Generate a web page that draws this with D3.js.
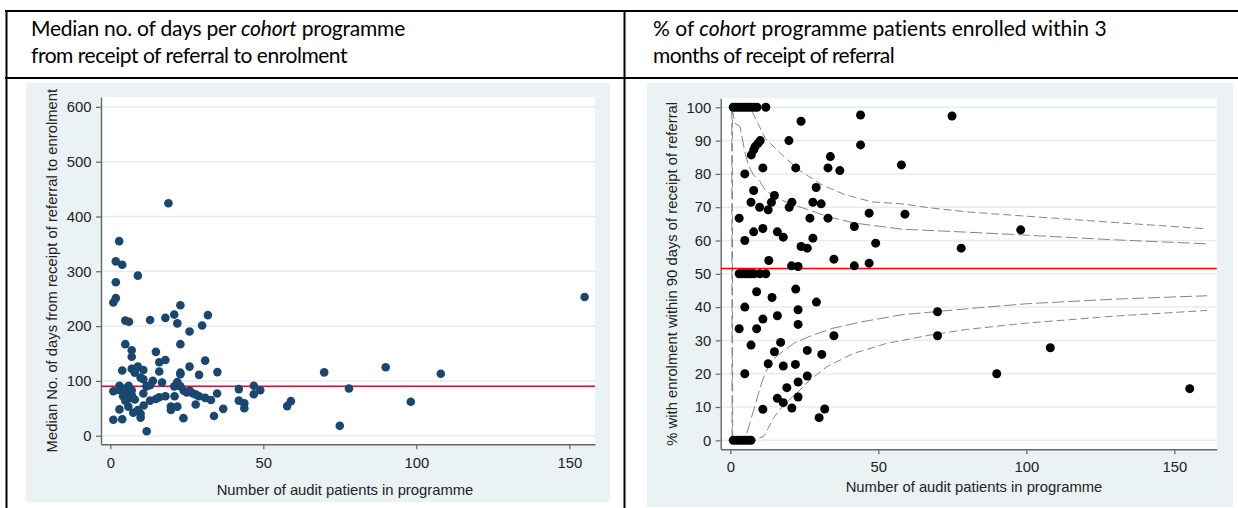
<!DOCTYPE html>
<html><head><meta charset="utf-8">
<script src="https://cdn.jsdelivr.net/npm/d3@7"></script>
<style>body{margin:0;background:#fff}svg{display:block}</style>
</head><body>
<svg id="c" width="1238" height="508"></svg>
<script>
// ---------- DATA ----------
const daysX = [19,2.9,1.8,3.9,9,1.8,1,1.8,4.9,6.1,13,18,20.9,22.9,21.9,25.9,30,31.9,4.9,7,7,14.9,22.9,16,18,25.9,31,
  3.9,7,9,10.8,8,9.9,10.8,16,22.9,22.9,29,35,13.9,16.9,21.9,1,3,3,4.9,6,4.8,7,4.2,7,6,8,4.9,5.9,3,1,3.9,7.5,9,9.9,9.9,
  10.9,11.9,10.8,11.8,13,13,14.9,16,18,21,19.8,19.8,21.9,20.9,21.9,22.9,23.9,24,25,26,27,28,29,27.9,31,32.9,34.9,33.9,
  36.9,42,42,43.8,43.8,46.9,46.9,49,57.8,59,69.9,75,78,90,98.2,108,155];
const daysY = [424,355,318,312,292,280,243,251,210,208,211,215,221,238,205,190,201,220,167,156,144,153,167,134,138,126,137,
  119,122,126,120,115,106,103,117,115,112,111,116,100,97,98,81,91,83,86,91,78,83,72,74,68,66,64,53,48,29,30,42,47,40,33,
  55,8,77,90,92,64,67,70,72,72,53,47,53,90,95,90,32,82,79,82,77,75,72,57,69,65,77,36,
  49,85,64,59,50,91,75.5,83,54,63,115.6,18,86,125,62,113,253];
const daysMedian = 90;
const daysTicks = [0,100,200,300,400,500,600];

const pctX = [1,2,3,4,5,6,7,8,9,12,
  23.9,44,44,19.8,7.1,7.9,8.4,9.4,10.1,33.8,57.8,4.9,11,22.1,33,37,29,7.9,14.9,7,13.9,9.9,12.8,20.8,19.9,27.9,30.7,
  3,26.9,33,46.9,59,41.9,4.9,7.9,11,15.9,17.9,27.9,23.9,26,49.1,13,35,20.7,22.9,41.9,46.9,74.9,98.1,78,
  3,4,5,6,7,8,10,12,
  8.9,14.1,22.1,29.1,4.9,11,15.9,22.9,22.9,3,8.9,35,7,17,14.9,26,30.9,12.8,17.9,22,4.9,26,22.9,19.1,15.9,17.9,22.9,
  11,20.8,31.9,30,
  1,2,3,4,5,6,7,
  70,70,108.1,90,155.2];
const pctY = [100,100,100,100,100,100,100,100,100,100,
  95.8,97.7,88.7,90,85.7,87.2,88.2,89.2,90,85.2,82.7,80,81.8,81.8,81.8,81,75.9,75,73.5,71.5,71.5,70,69.2,71.5,70,71.5,71,
  66.7,66.7,66.7,68.2,67.9,64.2,60,62.6,63.6,62.6,61,60.7,58.2,57.7,59.2,54,54.4,52.4,52.2,52.4,53.2,97.4,63.2,57.7,
  50,50,50,50,50,50,50,50,
  44.6,42.9,45.4,41.5,40,36.4,37.4,39.2,34.8,33.5,33.5,31.4,28.6,29.4,26.6,27,25.8,23,22.3,22.8,20,19.3,17.5,15.8,12.6,11.3,13,
  9.3,9.7,9.4,6.8,
  0,0,0,0,0,0,0,
  38.6,31.4,27.8,20,15.5];
const pctMean = 51.6;
const pctTicks = [0,10,20,30,40,50,60,70,80,90,100];
const xTicks = [0,50,100,150];

// funnel limits
const upper998X = [0.5,7,7.8,11.8,16.9,23.1,31,38.9,47.9,58,67.5,80,100,130,161];
const upper998Y = [100,100,97.9,90.7,86.2,81.2,76.7,73.7,71.6,71.0,69.8,68.6,67.3,65.4,63.5];
const upper95X = [0.5,1.6,3.3,5,6.1,7.8,10,12,15.7,21.4,26.5,33.2,42.2,58,80,100,130,161];
const upper95Y = [100,95.2,94.2,86.2,82.7,79.7,77.7,74.9,72.7,70.7,69.2,67.1,65.2,63.4,62.5,61.6,60.2,59.0];
const lower95X = [0.5,0.6,5.1,8.4,10.7,13.5,16.9,21.4,26.5,34.4,44.5,58,80,100,130,161];
const lower95Y = [100,0,0.6,10.6,17.6,23.6,26.1,29.1,31.1,33.6,35.6,37.7,39.5,41.0,42.4,43.4];
const lower998X = [0.7,0.8,7.2,11.2,12.8,14.5,17.9,22.4,26.9,32.6,41.6,52.8,67.5,80,100,130,161];
const lower998Y = [100,0,0,1.1,3.6,6.6,10.6,14.1,18.1,22.1,26.1,29.1,31.6,33.3,35.2,37.3,39.0];

const titleLeft1 = ["Median no. of days per ","cohort"," programme"];
const titleLeft2 = "from receipt of referral to enrolment";
const titleRight1 = ["% of ","cohort"," programme patients enrolled within 3"];
const titleRight2 = "months of receipt of referral";
const xTitle = "Number of audit patients in programme";
const yTitleLeft = "Median No. of days from receipt of referral to enrolment";
const yTitleRight = "% with enrolment within 90 days of receipt of referral";

// ---------- DRAW ----------
const svg = d3.select('#c');
const AX_FONT = "'Liberation Sans', Arial, sans-serif";
const BG = "#eaf2f3", GRID = "#e4edf0", AXC = "#666";

function fitText(sel, target){
  const n = sel.text().length;
  const w = sel.node().getComputedTextLength();
  sel.attr('letter-spacing', ((target - w) / n).toFixed(3));
}
function title(x, y, parts, target){
  const t = svg.append('text').attr('x', x).attr('y', y)
    .attr('font-family', "Lato, 'Open Sans', sans-serif").attr('font-size', 21).attr('fill', '#000');
  if (Array.isArray(parts)) {
    parts.forEach((p,i)=> t.append('tspan').text(p).attr('font-style', i===1 ? 'italic' : 'normal'));
  } else t.text(parts);
  fitText(t, target);
}

function panel(o){
  svg.append('rect').attr('x', o.bg[0]).attr('y', o.bg[1]).attr('width', o.bg[2]).attr('height', o.bg[3]).attr('fill', BG);
  const x = d3.scaleLinear().domain(o.xd).range([o.l, o.r]);
  const y = d3.scaleLinear().domain(o.yd).range([o.b, o.t]);
  svg.append('rect').attr('x', o.l).attr('y', o.t).attr('width', o.r - o.l).attr('height', o.b - o.t).attr('fill', '#fff');
  svg.append('g').selectAll('line').data(o.yTicks).join('line')
    .attr('x1', o.l).attr('x2', o.r).attr('y1', d=>y(d)).attr('y2', d=>y(d))
    .attr('stroke', GRID).attr('stroke-width', 1.5);
  const ya = svg.append('g').attr('transform', `translate(${o.l},0)`)
    .call(d3.axisLeft(y).tickValues(o.yTicks).tickSize(5).tickSizeOuter(0).tickPadding(4.5));
  const xa = svg.append('g').attr('transform', `translate(0,${o.b})`)
    .call(d3.axisBottom(x).tickValues(xTicks).tickSize(5).tickSizeOuter(0).tickPadding(o.xpad));
  [ya, xa].forEach(a=>{
    a.select('.domain').attr('stroke', AXC).attr('stroke-width', 1.4);
    a.selectAll('.tick line').attr('stroke', AXC).attr('stroke-width', 1.2);
    a.selectAll('text').attr('font-family', AX_FONT).attr('font-size', 14.8).attr('fill', '#222');
  });
  const g = svg.append('g');
  if (o.funnels) {
    o.funnels.forEach(f=>{
      const pts = f.xs.map((v,i)=>[v, f.ys[i]]);
      g.append('path').attr('d', d3.line().x(d=>x(d[0])).y(d=>y(d[1]))(pts))
        .attr('fill','none').attr('stroke','#858585').attr('stroke-width',1).attr('stroke-dasharray', f.dash);
    });
  }
  g.append('line').attr('x1', o.l).attr('x2', o.r).attr('y1', y(o.ref)).attr('y2', y(o.ref))
    .attr('stroke', o.refColor).attr('stroke-width', 1.5);
  g.selectAll('circle').data(o.xs.map((v,i)=>[v, o.ys[i]])).join('circle')
    .attr('cx', d=>x(d[0])).attr('cy', d=>y(d[1])).attr('r', o.rad).attr('fill', o.color);
  svg.append('text').attr('x', o.xtx).attr('y', o.xty).attr('text-anchor','middle')
    .attr('font-family', AX_FONT).attr('font-size', 14.8).attr('fill','#222').text(xTitle);
  svg.append('text').attr('transform', `translate(${o.ytx},${(o.t+o.b)/2}) rotate(-90)`).attr('text-anchor','middle')
    .attr('font-family', AX_FONT).attr('font-size', 14.8).attr('fill','#222').text(o.ytitle);
}

panel({bg:[26,83,584,419], l:101, r:595, t:97, b:444.3, xd:[-3.04,158.4], yd:[-15.7,618],
  yTicks: daysTicks, xpad: 8.5, xs: daysX, ys: daysY, ref: daysMedian, refColor:'#cc1236',
  rad:4.3, color:'#1a476f', xtx:345, xty:495, ytx:57, ytitle:yTitleLeft});

panel({bg:[647,83,586,424], l:720.7, r:1216.7, t:98.3, b:449.3, xd:[-3.24,164.3], yd:[-2.7,102.7],
  yTicks: pctTicks, xpad: 7, xs: pctX, ys: pctY, ref: pctMean, refColor:'#ff0000',
  rad:4.5, color:'#000', xtx:974, xty:492, ytx:677, ytitle:yTitleRight,
  funnels:[
    {xs:upper998X, ys:upper998Y, dash:'8,4'},
    {xs:upper95X, ys:upper95Y, dash:'12,4'},
    {xs:lower95X, ys:lower95Y, dash:'12,4'},
    {xs:lower998X, ys:lower998Y, dash:'8,4'}
  ]});

// table lines
const tl = svg.append('g').attr('stroke','#000').attr('stroke-width',2);
tl.append('line').attr('x1',5).attr('x2',1238).attr('y1',11).attr('y2',11);
tl.append('line').attr('x1',5).attr('x2',1238).attr('y1',78).attr('y2',78);
tl.append('line').attr('x1',6.5).attr('x2',6.5).attr('y1',10).attr('y2',508);
tl.append('line').attr('x1',624.5).attr('x2',624.5).attr('y1',10).attr('y2',508);

title(31, 36, titleLeft1, 374);
title(31, 63, titleLeft2, 316);
title(653, 36, titleRight1, 454);
title(653, 63, titleRight2, 241);
</script>
</body></html>
